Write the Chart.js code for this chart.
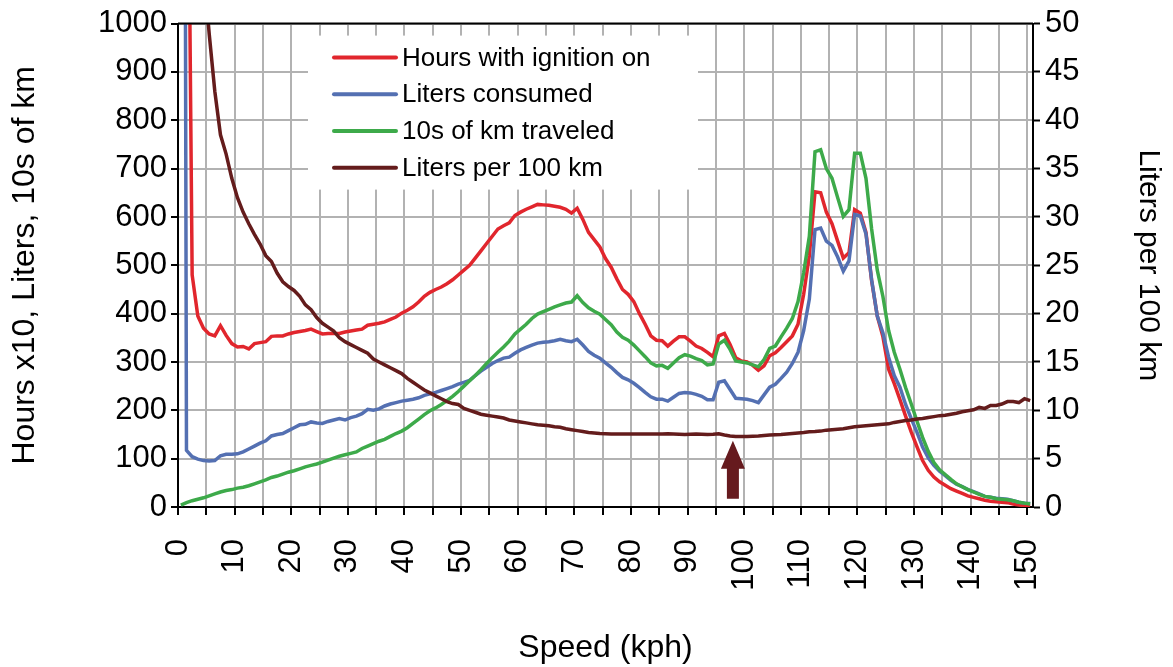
<!DOCTYPE html>
<html>
<head>
<meta charset="utf-8">
<script src="https://cdn.jsdelivr.net/npm/chart.js@4.4.1/dist/chart.umd.min.js"></script>
<style>
  html, body { margin: 0; padding: 0; background: #ffffff; }
  #wrap { width: 1173px; height: 667px; }
</style>
</head>
<body>
<div id="wrap"><canvas id="c" width="1173" height="667"></canvas></div>
<script>
// Speed bins (centre of each 1 kph bin)
const speedKph = [0.5,1.5,2.5,3.5,4.5,5.5,6.5,7.5,8.5,9.5,10.5,11.5,12.5,13.5,14.5,15.5,16.5,17.5,18.5,19.5,
20.5,21.5,22.5,23.5,24.5,25.5,26.5,27.5,28.5,29.5,30.5,31.5,32.5,33.5,34.5,35.5,36.5,37.5,38.5,39.5,
40.5,41.5,42.5,43.5,44.5,45.5,46.5,47.5,48.5,49.5,50.5,51.5,52.5,53.5,54.5,55.5,56.5,57.5,58.5,59.5,
60.5,61.5,62.5,63.5,64.5,65.5,66.5,67.5,68.5,69.5,70.5,71.5,72.5,73.5,74.5,75.5,76.5,77.5,78.5,79.5,
80.5,81.5,82.5,83.5,84.5,85.5,86.5,87.5,88.5,89.5,90.5,91.5,92.5,93.5,94.5,95.5,96.5,97.5,98.5,99.5,
100.5,101.5,102.5,103.5,104.5,105.5,106.5,107.5,108.5,109.5,110.5,111.5,112.5,113.5,114.5,115.5,116.5,117.5,118.5,119.5,
120.5,121.5,122.5,123.5,124.5,125.5,126.5,127.5,128.5,129.5,130.5,131.5,132.5,133.5,134.5,135.5,136.5,137.5,138.5,139.5,
140.5,141.5,142.5,143.5,144.5,145.5,146.5,147.5,148.5,149.5,150.5];

// Hours with ignition on (x10)
const hoursIgnition = [5000,1800,480,395,370,358,354,375,355,338,
331,332,327,338,340,342,353,354,354,358,
361,363,365,368,363,358,359,359,359,362,
364,366,368,376,378,380,383,388,393,401,
407,414,424,436,444,450,455,462,470,480,
490,500,515,530,545,560,575,582,588,603,
610,616,621,626,625,624,622,620,616,608,
618,595,568,553,538,514,496,472,450,440,
425,400,378,354,345,344,333,343,352,352,
343,333,328,320,311,354,359,336,309,302,
300,293,283,292,313,319,330,342,354,378,
440,520,652,650,610,586,550,515,526,615,
608,568,468,395,352,285,255,222,188,155,
125,96,76,62,52,45,38,33,28,23,
20,17,14,12,11,10,9,6,4,3,2];

// Liters consumed
const litersConsumed = [5000,117,104,99,96,95,96,106,109,109,
110,114,120,126,132,137,147,150,152,158,
164,170,171,176,174,173,177,180,183,180,
185,188,193,202,200,203,209,213,216,219,
221,223,226,231,234,237,241,245,249,254,
258,262,272,281,289,297,303,308,310,318,
325,330,335,339,341,342,344,347,344,342,
347,335,322,314,308,298,289,278,268,263,
256,247,237,228,223,223,219,227,235,237,
236,233,229,222,222,258,261,243,225,224,
223,220,216,232,248,254,266,279,297,320,
365,430,574,577,550,541,517,488,509,605,
602,565,470,395,360,310,272,248,212,183,
155,124,102,86,74,65,55,47,42,36,
32,27,22,20,18,17,16,13,10,8,7];

// 10s of km traveled
const kmTraveled = [4,9,13,16,19,23,27,31,34,36,
39,41,44,48,52,56,61,64,68,72,
75,79,83,86,89,93,97,101,105,108,
111,114,121,126,131,136,140,146,152,157,
164,173,182,191,199,205,212,220,229,239,
250,261,272,284,297,309,320,331,343,358,
368,378,390,399,404,409,414,418,422,424,
437,423,412,405,399,388,377,362,351,345,
335,323,311,298,292,293,287,298,309,315,
312,307,303,294,296,337,345,326,302,300,
298,294,290,305,328,333,352,370,390,425,
485,560,735,739,700,680,640,601,615,732,
732,680,575,490,435,365,320,285,247,213,
178,144,115,92,77,67,57,48,42,36,
31,26,22,20,17,16,15,13,10,8,6];

// Liters per 100 km (right axis)
const litersPer100 = [250,140,90,68,56,49,43,38.5,36.5,34,
32,30.5,29.3,28.2,27.2,26,25.4,24.2,23.3,22.8,
22.4,21.8,20.9,20.4,19.6,19.0,18.6,18.2,17.5,17.1,
16.8,16.5,16.2,15.9,15.3,15.0,14.7,14.4,14.1,13.8,
13.3,12.9,12.5,12.1,11.8,11.5,11.2,10.9,10.7,10.6,
10.2,10.0,9.8,9.6,9.5,9.4,9.3,9.2,9.0,8.9,
8.8,8.7,8.6,8.5,8.45,8.4,8.3,8.25,8.1,8.0,
7.9,7.8,7.7,7.65,7.6,7.58,7.56,7.55,7.55,7.55,
7.55,7.55,7.55,7.55,7.55,7.56,7.57,7.55,7.52,7.5,
7.52,7.55,7.53,7.5,7.52,7.57,7.45,7.35,7.3,7.3,
7.3,7.32,7.35,7.4,7.45,7.48,7.5,7.55,7.6,7.65,
7.7,7.78,7.8,7.85,7.95,8.0,8.05,8.1,8.2,8.3,
8.35,8.4,8.45,8.5,8.55,8.6,8.75,8.85,8.95,9.0,
9.1,9.15,9.25,9.35,9.45,9.5,9.6,9.7,9.85,9.95,
10.05,10.3,10.2,10.5,10.5,10.65,10.9,10.9,10.8,11.2,11.0];

const seriesNames = ['Hours with ignition on', 'Liters consumed', '10s of km traveled', 'Liters per 100 km'];
const seriesColors = ['#E1262D', '#5470B2', '#3DAA4A', '#641C1C'];

// Arrow annotation (speed, and left-axis values of tip / head base / tail)
const arrowSpeed = 98;
const arrowTip = 137, arrowHeadBase = 79, arrowTail = 17;
const arrowColor = '#661A1E';

const FONT = "'Liberation Sans', Arial, sans-serif";
const TICK_SIZE = 31;
const TITLE_SIZE = 32;

function pts(arr) { return arr.map((v, i) => ({ x: speedKph[i], y: v })); }

const overlay = {
  id: 'overlay',
  afterDatasetsDraw(chart) {
    const ctx = chart.ctx;
    const xs = chart.scales.x, ys = chart.scales.y;
    const ca = chart.chartArea;
    ctx.save();
    ctx.strokeStyle = '#000';
    ctx.lineWidth = 2;
    ctx.beginPath();
    ctx.moveTo(ca.left, ca.top);
    ctx.lineTo(ca.right, ca.top);
    ctx.stroke();
    const ax = xs.getPixelForValue(arrowSpeed);
    const tipY = ys.getPixelForValue(arrowTip);
    const baseY = ys.getPixelForValue(arrowHeadBase);
    const tailY = ys.getPixelForValue(arrowTail);
    ctx.fillStyle = arrowColor;
    ctx.beginPath();
    ctx.moveTo(ax, tipY);
    ctx.lineTo(ax + 12, baseY);
    ctx.lineTo(ax + 6, baseY);
    ctx.lineTo(ax + 6, tailY);
    ctx.lineTo(ax - 6, tailY);
    ctx.lineTo(ax - 6, baseY);
    ctx.lineTo(ax - 12, baseY);
    ctx.closePath();
    ctx.fill();
    ctx.restore();
  },
  afterDraw(chart) {
    const ctx = chart.ctx;
    const ca = chart.chartArea;
    const bx = ca.left + 130, by = ca.top + 12, bw = 390, bh = 154;
    ctx.save();
    ctx.fillStyle = '#ffffff';
    ctx.fillRect(bx, by, bw, bh);
    ctx.font = '26px ' + FONT;
    ctx.textBaseline = 'middle';
    ctx.textAlign = 'left';
    seriesNames.forEach((name, i) => {
      const yy = by + 22 + i * 36.7;
      ctx.strokeStyle = seriesColors[i];
      ctx.lineWidth = 4;
      ctx.lineCap = 'round';
      ctx.beginPath();
      ctx.moveTo(bx + 26, yy);
      ctx.lineTo(bx + 88, yy);
      ctx.stroke();
      ctx.fillStyle = '#000';
      ctx.fillText(name, bx + 94, yy + 1);
    });
    ctx.restore();
  }
};

const datasets = [hoursIgnition, litersConsumed, kmTraveled, litersPer100].map((arr, i) => ({
  label: seriesNames[i],
  data: pts(arr),
  borderColor: seriesColors[i],
  backgroundColor: seriesColors[i],
  borderWidth: 3.5,
  pointRadius: 0,
  tension: 0,
  fill: false,
  yAxisID: i === 3 ? 'y2' : 'y',
  order: 4 - i
}));

new Chart(document.getElementById('c'), {
  type: 'line',
  data: { datasets },
  options: {
    responsive: false,
    animation: false,
    events: [],
    layout: { padding: { top: 21, left: 0, right: 0, bottom: 0 } },
    plugins: { legend: { display: false }, tooltip: { enabled: false } },
    scales: {
      x: {
        type: 'linear',
        min: 0, max: 151,
        afterFit(s) { s.height = 160; },
        ticks: {
          stepSize: 5,
          includeBounds: false,
          autoSkip: false,
          minRotation: 90, maxRotation: 90,
          padding: 24,
          color: '#000',
          font: { family: FONT, size: TICK_SIZE },
          callback: (v) => (v % 10 === 0 ? String(v) : '')
        },
        grid: { color: '#B2B2B2', lineWidth: 2, tickColor: '#000', tickLength: 8, tickWidth: 2 },
        border: { color: '#000', width: 2 },
        title: { display: true, text: 'Speed (kph)', color: '#000', font: { family: FONT, size: TITLE_SIZE }, padding: { top: 0, bottom: 0 } }
      },
      y: {
        position: 'left',
        min: 0, max: 1000,
        afterFit(s) { s.width = 178; },
        ticks: { stepSize: 100, color: '#000', padding: 4, font: { family: FONT, size: TICK_SIZE }, callback: (v) => String(v) },
        grid: { color: '#B2B2B2', lineWidth: 2, tickColor: '#000', tickLength: 7, tickWidth: 2 },
        border: { color: '#000', width: 2 },
        title: { display: true, text: 'Hours x10, Liters, 10s of km', color: '#000', font: { family: FONT, size: TITLE_SIZE }, padding: { top: 6, bottom: 0 } }
      },
      y2: {
        position: 'right',
        min: 0, max: 50,
        afterFit(s) { s.width = 140; },
        ticks: { stepSize: 5, color: '#000', padding: 5, font: { family: FONT, size: TICK_SIZE }, callback: (v) => String(v) },
        grid: { drawOnChartArea: false, tickColor: '#000', tickLength: 7, tickWidth: 2 },
        border: { color: '#000', width: 2 },
        title: { display: true, text: 'Liters per 100 km', color: '#000', font: { family: FONT, size: 30 }, padding: { top: 7, bottom: 0 } }
      }
    }
  },
  plugins: [overlay]
});
</script>
</body>
</html>
